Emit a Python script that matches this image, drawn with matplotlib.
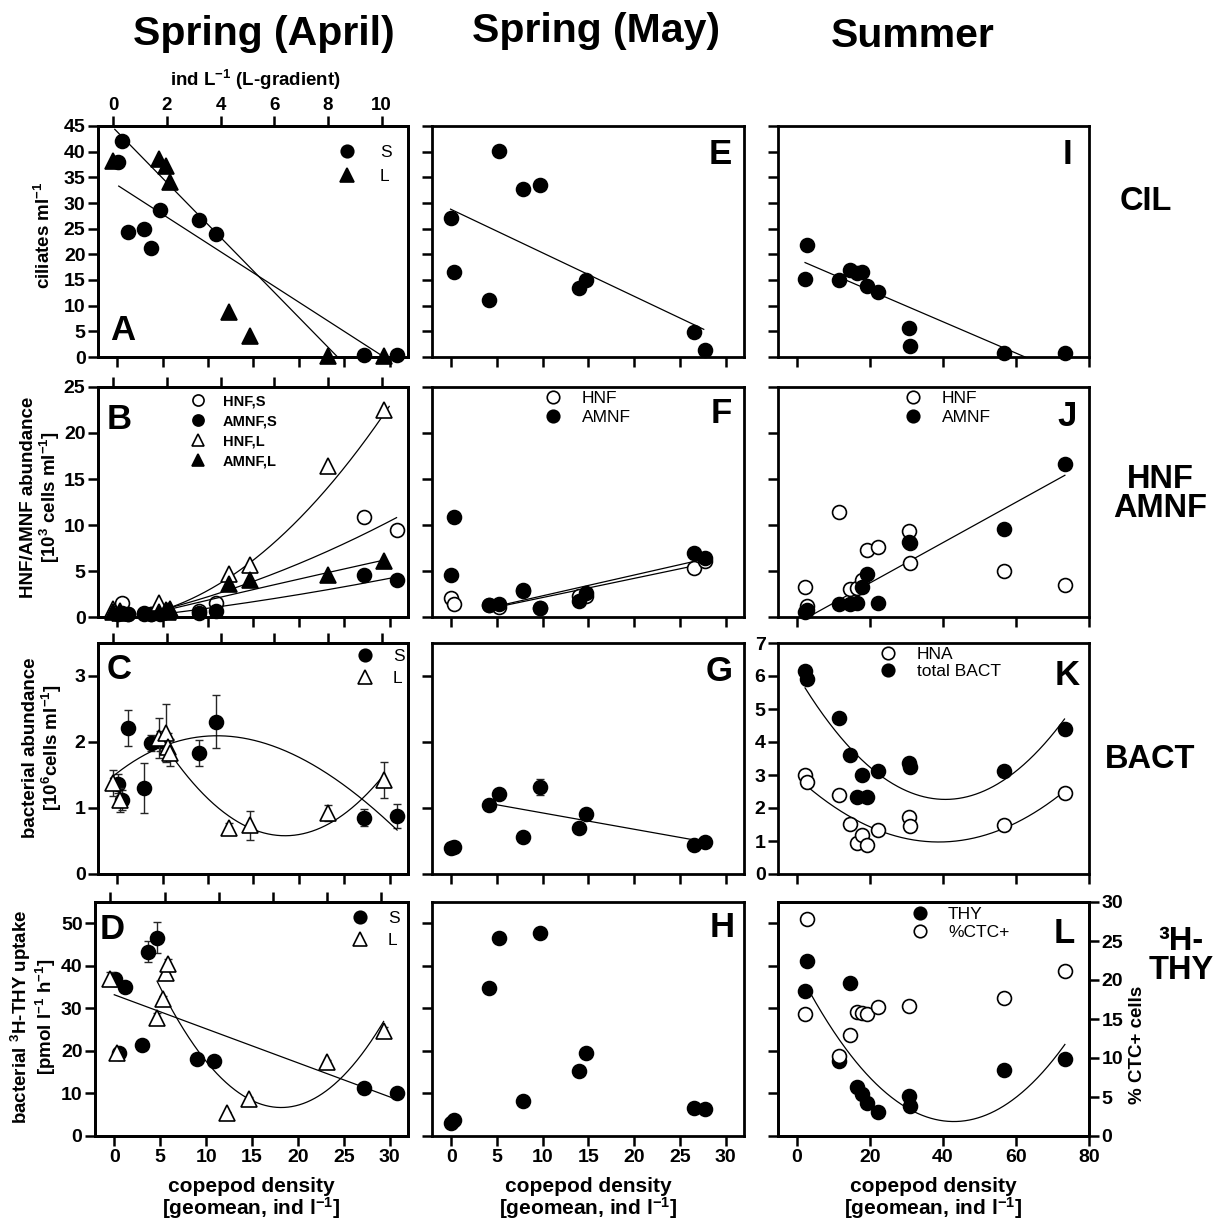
import numpy as np
import matplotlib
matplotlib.use('Agg')
import matplotlib.pyplot as plt
from matplotlib.lines import Line2D

nan = np.nan

# ------------------------------------------------------------------ data
# Spring (April): S-gradient copepod density (bottom axis) and L-gradient (top axis, ind L-1)
apr_S_x = [0.1, 0.5, 1.2, 3.0, 3.7, 4.7, 9.0, 10.9, 27.2, 30.8]
apr_L_x = [0.0, 0.25, 1.7, 1.95, 2.05, 2.12, 4.3, 5.1, 8.0, 10.1]

A_cil_S = [38.0, 42.1, 24.3, 24.9, 21.3, 28.6, 26.7, 24.0, 0.3, 0.3]
A_cil_L = [38.2, nan, 38.6, 37.3, nan, 34.0, 8.7, 4.0, 0.2, 0.2]

B_HNF_S = [0.4, 1.5, 0.35, 0.4, 0.35, 0.4, 0.6, 1.52, 10.87, 9.42]
B_AMNF_S = [0.35, 0.4, 0.3, 0.3, 0.35, 0.3, 0.47, 0.65, 4.53, 3.99]
B_HNF_L = [0.9, 0.6, 1.5, 0.8, 0.7, 0.9, 4.7, 5.7, 16.4, 22.5]
B_AMNF_L = [0.5, 0.4, 0.5, 0.6, 0.5, 0.8, 3.6, 4.0, 4.6, 6.05]

C_bact_S = [1.37, 1.12, 2.21, 1.30, 1.98, 2.02, 1.83, 2.31, 0.85, 0.88]
C_bact_S_err = [0.15, 0.15, 0.27, 0.38, 0.12, 0.15, 0.2, 0.4, 0.13, 0.18]
C_bact_L = [1.38, 1.12, 2.06, 2.14, 1.93, 1.84, 0.70, 0.74, 0.93, 1.42]
C_bact_L_err = [0.2, 0.18, 0.3, 0.44, 0.2, 0.2, 0.07, 0.22, 0.12, 0.27]

D_thy_S = [36.8, 19.6, 35.1, 21.3, 43.3, 46.6, 18.2, 17.6, 11.2, 10.0]
D_thy_S_err = [1.6, 0, 0, 0, 2.5, 3.6, 0, 0, 0, 0]
D_thy_L = [37.0, 19.6, 27.8, 32.3, 38.2, 40.5, 5.3, 8.6, 17.4, 24.7]
D_thy_L_err = [1.5, 0.5, 1.0, 0.5, 0.8, 1.0, 0.3, 0.5, 0.5, 1.0]

# Spring (May)
may_x = [0.0, 0.3, 4.1, 5.2, 7.9, 9.7, 14.0, 14.7, 26.5, 27.7]
E_cil = [27.0, 16.5, 11.1, 40.2, 32.8, 33.5, 13.4, 15.0, 4.8, 1.3]
F_HNF = [2.06, 1.41, 1.3, 1.1, 2.8, 1.0, 2.29, 2.25, 5.34, 6.1]
F_AMNF = [4.58, 10.9, 1.34, 1.41, 2.94, 1.03, 1.72, 2.56, 6.95, 6.37]
G_bact = [0.39, 0.41, 1.05, 1.21, 0.56, 1.32, 0.69, 0.91, 0.44, 0.49]
G_bact_err = [0, 0, 0, 0, 0, 0.12, 0, 0.06, 0, 0]
H_thy = [3.0, 3.7, 34.7, 46.6, 8.3, 47.7, 15.2, 19.4, 6.5, 6.4]

# Summer
sum_x = [2.3, 2.7, 11.5, 14.6, 16.5, 17.9, 19.2, 22.4, 30.8, 31.1, 56.8, 73.5]
I_cil = [15.1, 21.8, 15.0, 17.0, 16.3, 16.5, 13.8, 12.6, 5.6, 2.2, 0.7, 0.7]
J_HNF = [3.3, 1.2, 11.4, 3.0, 3.1, 4.0, 7.3, 7.6, 9.3, 5.9, 5.05, 3.5]
J_AMNF = [0.55, 0.8, 1.4, 1.4, 1.5, 3.3, 4.7, 1.5, 8.2, 8.0, 9.6, 16.6]
K_total = [6.15, 5.91, 4.73, 3.62, 2.34, 3.0, 2.34, 3.11, 3.35, 3.24, 3.11, 4.38]
K_HNA = [3.0, 2.79, 2.38, 1.52, 0.94, 1.17, 0.87, 1.32, 1.73, 1.44, 1.5, 2.46]
L_thy = [34.1, 41.1, 17.6, 35.9, 11.4, 9.8, 7.7, 5.7, 9.4, 7.05, 15.5, 18.0]
L_ctc = [15.6, 27.8, 10.3, 12.9, 15.9, 15.8, 15.6, 16.5, 16.7, nan, 17.7, 21.2]

# regression fits: polynomial coefficients (c0, c1, c2, ...) and x-range
fit_A_S = ([33.5, -1.141], [0.18, 29.2])
fit_A_L = ([44.65, -5.343], [0.056, 8.36])
fit_B_HNF_L = ([-0.3, 0.2, 0.2], [1.9, 10.28])
fit_B_AMNF_L = ([-0.63, 0.71, -0.0034], [1.95, 10.07])
fit_B_HNF_S = ([-0.373, 0.2067, 0.0051], [5.47, 30.74])
fit_B_AMNF_S = ([-0.257, 0.107, 0.001394], [5.47, 30.74])
fit_C_S = ([1.53, 0.10667, -0.0054, 3.33e-5], [-0.73, 30.8])
fit_C_L = ([3.365, -0.8704, 0.068], [1.97, 10.09])
fit_D_S = ([33.2, -0.80], [0.0, 30.9])
fit_D_L = ([62.9, -17.842, 1.416], [1.72, 10.08])
fit_E = ([28.74, -0.846], [-0.07, 27.6])
fit_F_AMNF = ([0.049, 0.2257], [5.1, 27.7])
fit_F_HNF = ([0.039, 0.208], [5.1, 27.7])
fit_G = ([1.172, -0.0247], [4.1, 27.2])
fit_I = ([19.1, -0.3056], [2.3, 62.5])
fit_J = ([-0.70, 0.2194], [3.2, 73.4])
fit_K_total = ([6.057, -0.18657, 0.002292], [2.3, 73.3])
fit_K_HNA = ([2.937, -0.10114, 0.0013], [2.8, 73.3])
fit_L_thy = ([39.64, -1.6856, 0.0196], [3.6, 73.4])

col_titles = ['Spring (April)', 'Spring (May)', 'Summer']
row_titles = ['CIL', 'HNF\nAMNF', 'BACT', '³H-\nTHY']

# ------------------------------------------------------------------ style
plt.rcParams.update({
    'font.family': ['Liberation Sans', 'DejaVu Sans'],
    'font.weight': 'bold',
    'mathtext.fontset': 'custom',
    'mathtext.rm': 'Liberation Sans:bold',
    'mathtext.it': 'Liberation Sans:bold',
    'mathtext.bf': 'Liberation Sans:bold',
    'axes.linewidth': 2.0,
})

W, H = 1221, 1230
fig = plt.figure(figsize=(W / 100, H / 100), dpi=100)


def fx(px):
    return px / W


def fy(py):
    return 1 - py / H


def box(l, t, r, b):
    return fig.add_axes([l / W, 1 - b / H, (r - l) / W, (b - t) / H])


COLS = [(98, 408), (432, 744), (778, 1089)]
ROWS = [(126, 357), (387, 617), (643, 874), (902, 1136)]
TICKFS = 14
MS = 10


def fmt(ax, xlim, ylim, xticks, yticks, labelleft=False, labelbottom=False):
    ax.set_xlim(*xlim)
    ax.set_ylim(*ylim)
    ax.set_xticks(xticks)
    ax.set_yticks(yticks)
    ax.tick_params(axis='both', direction='out', length=7, width=1.8,
                   labelsize=TICKFS, pad=2)
    ax.tick_params(axis='y', labelleft=labelleft)
    ax.tick_params(axis='x', labelbottom=labelbottom)


def pts(ax, x, y, marker, filled, yerr=None):
    if yerr is not None:
        ax.errorbar(x, y, yerr=yerr, fmt='none', ecolor='0.15', elinewidth=1,
                    capsize=3, capthick=1, zorder=2)
    ms = MS + (1 if marker == '^' else 0)
    ax.plot(x, y, ls='none', marker=marker, ms=ms,
            mfc='black' if filled else 'white', mec='black', mew=1.2,
            clip_on=False, zorder=4)


def fit(ax, f):
    coefs, xr = f
    xs = np.linspace(xr[0], xr[1], 300)
    ys = np.polyval(coefs[::-1], xs)
    ax.plot(xs, ys, color='black', lw=0.9, zorder=3)


def legend(ax, entries, mx, my, tx, dy, fs, weight='normal', ms=9):
    handles, labels = [], []
    for marker, filled, lab in entries:
        handles.append(Line2D([], [], ls='none', marker=marker,
                              ms=ms + (1 if marker == '^' else 0),
                              mfc='black' if filled else 'white',
                              mec='black', mew=1.2))
        labels.append(lab)
    fpx = fs / 0.72
    ax_px = mx - 0.5 * fpx
    htp = (tx - (ax_px + fpx)) / fpx
    th = fpx * 0.89
    ls = (dy - th) / fpx
    ay = my - th / 2
    ax.legend(handles, labels, loc='upper left',
              bbox_to_anchor=(fx(ax_px), fy(ay)), bbox_transform=fig.transFigure,
              frameon=False, borderpad=0, borderaxespad=0, handlelength=1.0,
              handletextpad=htp, labelspacing=ls,
              prop={'size': fs, 'weight': weight})


XL1 = (-2.1, 32.0)
XLL = (-0.57, 10.98)
XL3 = (-5.1, 80)
xt1 = np.arange(0, 31, 5)
xtL = np.arange(0, 11, 2)
xt3 = np.arange(0, 81, 20)

ylims = [(0, 45), (0, 25), (0, 3.5), (0, 55)]
yticks = [np.arange(0, 46, 5), np.arange(0, 26, 5), np.arange(0, 4, 1), np.arange(0, 51, 10)]

# ------------------------------------------------------------------ column 1 (April)
axes1 = []
tw1 = []
for r in range(4):
    l, rr = COLS[0]
    if r == 3:
        l = 95
    ax = box(l, ROWS[r][0], rr, ROWS[r][1])
    fmt(ax, XL1, ylims[r], xt1, yticks[r], labelleft=True, labelbottom=(r == 3))
    tw = ax.twiny()
    tw.set_xlim(*XLL)
    tw.set_xticks(xtL)
    tw.tick_params(axis='x', direction='out', length=7, width=1.8,
                   labelsize=13.5, pad=2, labeltop=(r == 0))
    axes1.append(ax)
    tw1.append(tw)

# A
ax, tw = axes1[0], tw1[0]
fit(ax, fit_A_S)
fit(tw, fit_A_L)
pts(ax, apr_S_x, A_cil_S, 'o', True)
pts(tw, apr_L_x, A_cil_L, '^', True)
legend(tw, [('o', True, 'S'), ('^', True, 'L')], 347, 153, 380, 23.5, 12.5)

# B
ax, tw = axes1[1], tw1[1]
fit(tw, fit_B_HNF_L)
fit(tw, fit_B_AMNF_L)
fit(ax, fit_B_HNF_S)
fit(ax, fit_B_AMNF_S)
pts(ax, apr_S_x, B_HNF_S, 'o', False)
pts(ax, apr_S_x, B_AMNF_S, 'o', True)
pts(tw, apr_L_x, B_HNF_L, '^', False)
pts(tw, apr_L_x, B_AMNF_L, '^', True)
legend(tw, [('o', False, 'HNF,S'), ('o', True, 'AMNF,S'),
            ('^', False, 'HNF,L'), ('^', True, 'AMNF,L')],
       198, 401, 223, 19, 10.5, weight='bold', ms=8)

# C
ax, tw = axes1[2], tw1[2]
fit(ax, fit_C_S)
fit(tw, fit_C_L)
pts(ax, apr_S_x, C_bact_S, 'o', True, yerr=C_bact_S_err)
pts(tw, apr_L_x, C_bact_L, '^', False, yerr=C_bact_L_err)
legend(tw, [('o', True, 'S'), ('^', False, 'L')], 365, 657, 393, 21.5, 12.5)

# D
ax, tw = axes1[3], tw1[3]
fit(ax, fit_D_S)
fit(tw, fit_D_L)
pts(ax, apr_S_x, D_thy_S, 'o', True, yerr=D_thy_S_err)
pts(tw, apr_L_x, D_thy_L, '^', False, yerr=D_thy_L_err)
legend(tw, [('o', True, 'S'), ('^', False, 'L')], 360, 919, 388, 21.5, 12.5)

# ------------------------------------------------------------------ column 2 (May)
axes2 = []
for r in range(4):
    ax = box(COLS[1][0], ROWS[r][0], COLS[1][1], ROWS[r][1])
    fmt(ax, XL1, ylims[r], xt1, yticks[r], labelleft=False, labelbottom=(r == 3))
    axes2.append(ax)

ax = axes2[0]
fit(ax, fit_E)
pts(ax, may_x, E_cil, 'o', True)

ax = axes2[1]
fit(ax, fit_F_AMNF)
fit(ax, fit_F_HNF)
pts(ax, may_x, F_HNF, 'o', False)
pts(ax, may_x, F_AMNF, 'o', True)
legend(ax, [('o', False, 'HNF'), ('o', True, 'AMNF')], 553, 399, 582, 19, 12.5)

ax = axes2[2]
fit(ax, fit_G)
pts(ax, may_x, G_bact, 'o', True, yerr=G_bact_err)

ax = axes2[3]
pts(ax, may_x, H_thy, 'o', True)

# ------------------------------------------------------------------ column 3 (Summer)
axes3 = []
for r in range(4):
    ax = box(COLS[2][0], ROWS[r][0], COLS[2][1], ROWS[r][1])
    axes3.append(ax)

ax = axes3[0]
fmt(ax, XL3, (0, 45), xt3, np.arange(0, 46, 5))
fit(ax, fit_I)
pts(ax, sum_x, I_cil, 'o', True)

ax = axes3[1]
fmt(ax, XL3, (0, 25), xt3, np.arange(0, 26, 5))
fit(ax, fit_J)
pts(ax, sum_x, J_HNF, 'o', False)
pts(ax, sum_x, J_AMNF, 'o', True)
legend(ax, [('o', False, 'HNF'), ('o', True, 'AMNF')], 913, 399, 942, 19, 12.5)

ax = axes3[2]
fmt(ax, XL3, (0, 7), xt3, np.arange(0, 8, 1), labelleft=True)
fit(ax, fit_K_total)
fit(ax, fit_K_HNA)
pts(ax, sum_x, K_HNA, 'o', False)
pts(ax, sum_x, K_total, 'o', True)
legend(ax, [('o', False, 'HNA'), ('o', True, 'total BACT')], 888, 655, 917, 17, 12.5)

ax = axes3[3]
fmt(ax, XL3, (0, 55), xt3, np.arange(0, 51, 10), labelbottom=True)
axr = ax.twinx()
axr.set_ylim(0, 30)
axr.set_yticks(np.arange(0, 31, 5))
axr.tick_params(axis='y', direction='out', length=7, width=1.8, labelsize=TICKFS, pad=2)
fit(ax, fit_L_thy)
pts(axr, sum_x, L_ctc, 'o', False)
pts(ax, sum_x, L_thy, 'o', True)
legend(axr, [('o', True, 'THY'), ('o', False, '%CTC+')], 920, 915, 948, 18, 12.5)
fig.text(fx(1138), fy(1045), '% CTC+ cells', rotation=90, ha='center', va='center',
         fontsize=13.5, fontweight='bold')

# ------------------------------------------------------------------ panel letters
letters_left = [('A', 110, 340, 'baseline'), ('B', 107, 403, 'top'),
                ('C', 107, 653, 'top'), ('D', 100, 913, 'top')]
for t, x, y, va in letters_left:
    fig.text(fx(x), fy(y), t, ha='left', va=va, fontsize=25, fontweight='bold')
letters_right = [('E', 732, 138), ('F', 732, 397), ('G', 733, 655), ('H', 735, 911),
                 ('I', 1072, 138), ('J', 1077, 400), ('K', 1080, 659), ('L', 1075, 917)]
for t, x, y in letters_right:
    fig.text(fx(x), fy(y), t, ha='right', va='top', fontsize=25, fontweight='bold')

# ------------------------------------------------------------------ labels
fig.text(fx(44), fy(235), 'ciliates ml$^{-1}$', rotation=90, ha='center', va='center', fontsize=13.5)
fig.text(fx(41), fy(497), 'HNF/AMNF abundance\n[10$^{3}$ cells ml$^{-1}$]', rotation=90,
         ha='center', va='center', ma='center', fontsize=13.5, linespacing=1.05)
fig.text(fx(43), fy(748), 'bacterial abundance\n[10$^{6}$cells ml$^{-1}$]', rotation=90,
         ha='center', va='center', ma='center', fontsize=13.5, linespacing=1.05)
fig.text(fx(33), fy(1017), 'bacterial $^{3}$H-THY uptake\n[pmol l$^{-1}$ h$^{-1}$]', rotation=90,
         ha='center', va='center', ma='center', fontsize=13.5, linespacing=1.05)

for cx in (251, 588, 933):
    fig.text(fx(cx), fy(1199), 'copepod density\n[geomean, ind l$^{-1}$]', ha='center',
             va='center', ma='center', fontsize=15, linespacing=1.0)

fig.text(fx(255), fy(86), 'ind L$^{-1}$ (L-gradient)', ha='center', va='baseline', fontsize=13.5)

for t, cx, by in zip(col_titles, (264, 596, 913), (45, 42, 47)):
    fig.text(fx(cx), fy(by), t, ha='center', va='baseline', fontsize=29.5)

for t, cx, cy in zip(row_titles, (1146, 1160, 1150, 1181), (202, 494, 760, 956)):
    fig.text(fx(cx), fy(cy), t, ha='center', va='center', ma='center', fontsize=23.5,
             linespacing=0.95)

fig.savefig('out.png', dpi=100)
